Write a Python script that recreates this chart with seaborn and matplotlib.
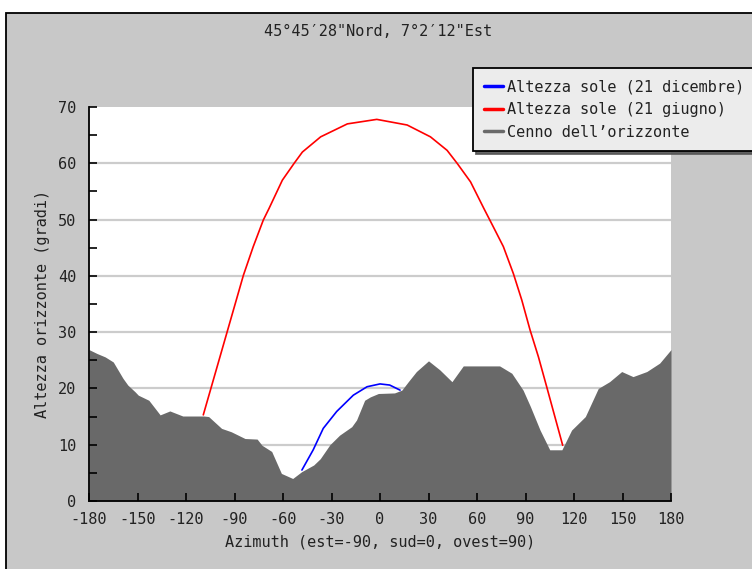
import matplotlib
matplotlib.use("Agg")
import matplotlib.pyplot as plt
import seaborn as sns
import pandas as pd
from matplotlib.patches import Rectangle
from matplotlib.lines import Line2D

# ---- data ----
horizon_az = [-180, -175, -170, -165, -159, -156, -151.5, -149.5, -143, -136, -130, -122,
              -109, -106, -98, -92, -83.5, -76, -73, -67, -61, -54, -48.5, -41, -37, -31,
              -25, -17.5, -14.5, -9.5, -6, -1, 9, 13.5, 17.5, 22.5, 30, 37, 44.5, 51.5,
              74, 81.5, 88.5, 93, 99, 105, 112.5, 118.5, 127, 135, 142, 149.5, 156.5,
              165, 173, 180]
horizon_alt = [26.9, 26.2, 25.6, 24.7, 21.8, 20.6, 19.4, 18.8, 17.9, 15.3, 16.0, 15.1,
               15.1, 15.0, 12.9, 12.3, 11.1, 11.0, 9.9, 8.8, 4.9, 4.0, 5.2, 6.4, 7.5, 10.0,
               11.7, 13.2, 14.4, 17.9, 18.5, 19.1, 19.2, 19.7, 21.2, 23.0, 24.9, 23.3, 21.2, 24.0,
               24.0, 22.7, 19.7, 16.8, 12.6, 9.1, 9.1, 12.6, 15.0, 20.0, 21.2, 23.0, 22.1,
               23.0, 24.5, 26.9]

june_az = [-109.3, -103.1, -94.8, -84.5, -78.4, -72.2, -68.6, -60.4, -53.1, -48.0, -36.7,
           -20.2, -2, 16.8, 31.2, 41.5, 47.7, 56, 64.2, 70.1, 76.3, 82.5, 87.7, 92.8, 98,
           103.1, 113]
june_alt = [15.3, 21.5, 29.8, 40.1, 45.2, 49.9, 52.0, 57.0, 60.0, 62.0, 64.7,
            67.0, 67.8, 66.8, 64.7, 62.3, 60.0, 56.7, 52.0, 48.7, 45.2, 40.4, 35.7, 30.4, 25.6,
            20.3, 9.9]

dec_az = [-48.3, -41.3, -35.1, -26.8, -16.5, -8, 0, 6, 12.4]
dec_alt = [5.5, 9.1, 12.9, 15.9, 18.8, 20.3, 20.8, 20.6, 19.7]

x_ticks = list(range(-180, 181, 30))
y_ticks = list(range(0, 71, 10))

title = "45°45′28\"Nord, 7°2′12\"Est"
xlabel = "Azimuth (est=-90, sud=0, ovest=90)"
ylabel = "Altezza orizzonte (gradi)"
labels = ["Altezza sole (21 dicembre)", "Altezza sole (21 giugno)", "Cenno dell’orizzonte"]

# ---- plotting ----
sns.set_style("white")
plt.rcParams["font.family"] = ["DejaVu Sans Mono", "DejaVu Sans"]
plt.rcParams["axes.unicode_minus"] = False
FS = 11
PANEL = "#c8c8c8"

fig = plt.figure(figsize=(7.52, 5.69), dpi=100)
fig.patch.set_facecolor("white")
W, H = 752, 569
# gray panel with black top/left border
fig.patches.append(Rectangle((6 / W, -0.05), 1.1, 1 - 12.5 / H + 0.05, transform=fig.transFigure,
                             facecolor=PANEL, edgecolor="black", linewidth=1.3, zorder=-10))

ax = fig.add_axes([89 / W, 1 - 501 / H, (671 - 89) / W, (501 - 107) / H])
ax.set_facecolor("white")

for yv in y_ticks[1:-1]:
    ax.axhline(yv, color="#cccccc", linewidth=1.6, zorder=1)
ax.fill_between(horizon_az, 0, horizon_alt, color="#696969", linewidth=0, zorder=2)
dec_df = pd.DataFrame({"az": dec_az, "alt": dec_alt})
jun_df = pd.DataFrame({"az": june_az, "alt": june_alt})
sns.lineplot(data=dec_df, x="az", y="alt", ax=ax, color="#0000ff", linewidth=1.2,
             sort=False, zorder=3)
sns.lineplot(data=jun_df, x="az", y="alt", ax=ax, color="#ff0000", linewidth=1.2,
             sort=False, zorder=3)

ax.set_xlim(-180, 180)
ax.set_ylim(0, 70)
ax.set_xticks(x_ticks)
ax.set_yticks(y_ticks)
ax.set_yticks(list(range(5, 70, 10)), minor=True)
ax.tick_params(axis="both", which="both", direction="in", length=6, width=1.2,
               color="black", labelsize=FS, labelcolor="#222222")
ax.tick_params(axis="x", which="both", bottom=True, pad=8)
ax.tick_params(axis="y", which="both", left=True, pad=9)
ax.grid(False)
ax.set_axisbelow(False)
for s in ["top", "right"]:
    ax.spines[s].set_visible(False)
for s in ["left", "bottom"]:
    ax.spines[s].set_color("black")
    ax.spines[s].set_linewidth(1.3)
    ax.spines[s].set_zorder(4)

ax.set_xlabel(xlabel, fontsize=FS, color="#222222", labelpad=5)
ax.set_ylabel(ylabel, fontsize=FS, color="#222222", labelpad=6)

fig.text(378 / W, 1 - 32 / H, title, ha="center", va="center", fontsize=FS, color="#222222")

handles = [Line2D([], [], color="#0000ff", linewidth=2.5),
           Line2D([], [], color="#ff0000", linewidth=2.5),
           Line2D([], [], color="#696969", linewidth=2.5)]
leg = fig.legend(handles, labels, loc="upper left", bbox_to_anchor=(473 / W, 1 - 68 / H),
                 bbox_transform=fig.transFigure, fontsize=FS, frameon=True, fancybox=False,
                 shadow={"color": "#555555", "alpha": 0.9}, borderaxespad=0, borderpad=0.75,
                 handlelength=1.2, handletextpad=0.3, labelspacing=0.5)
leg.get_frame().set_facecolor("#ececec")
leg.get_frame().set_edgecolor("black")
leg.get_frame().set_linewidth(1.3)
leg.get_frame().set_alpha(1)
for t in leg.get_texts():
    t.set_color("#222222")

fig.savefig("out.png", dpi=100, facecolor=fig.get_facecolor())
